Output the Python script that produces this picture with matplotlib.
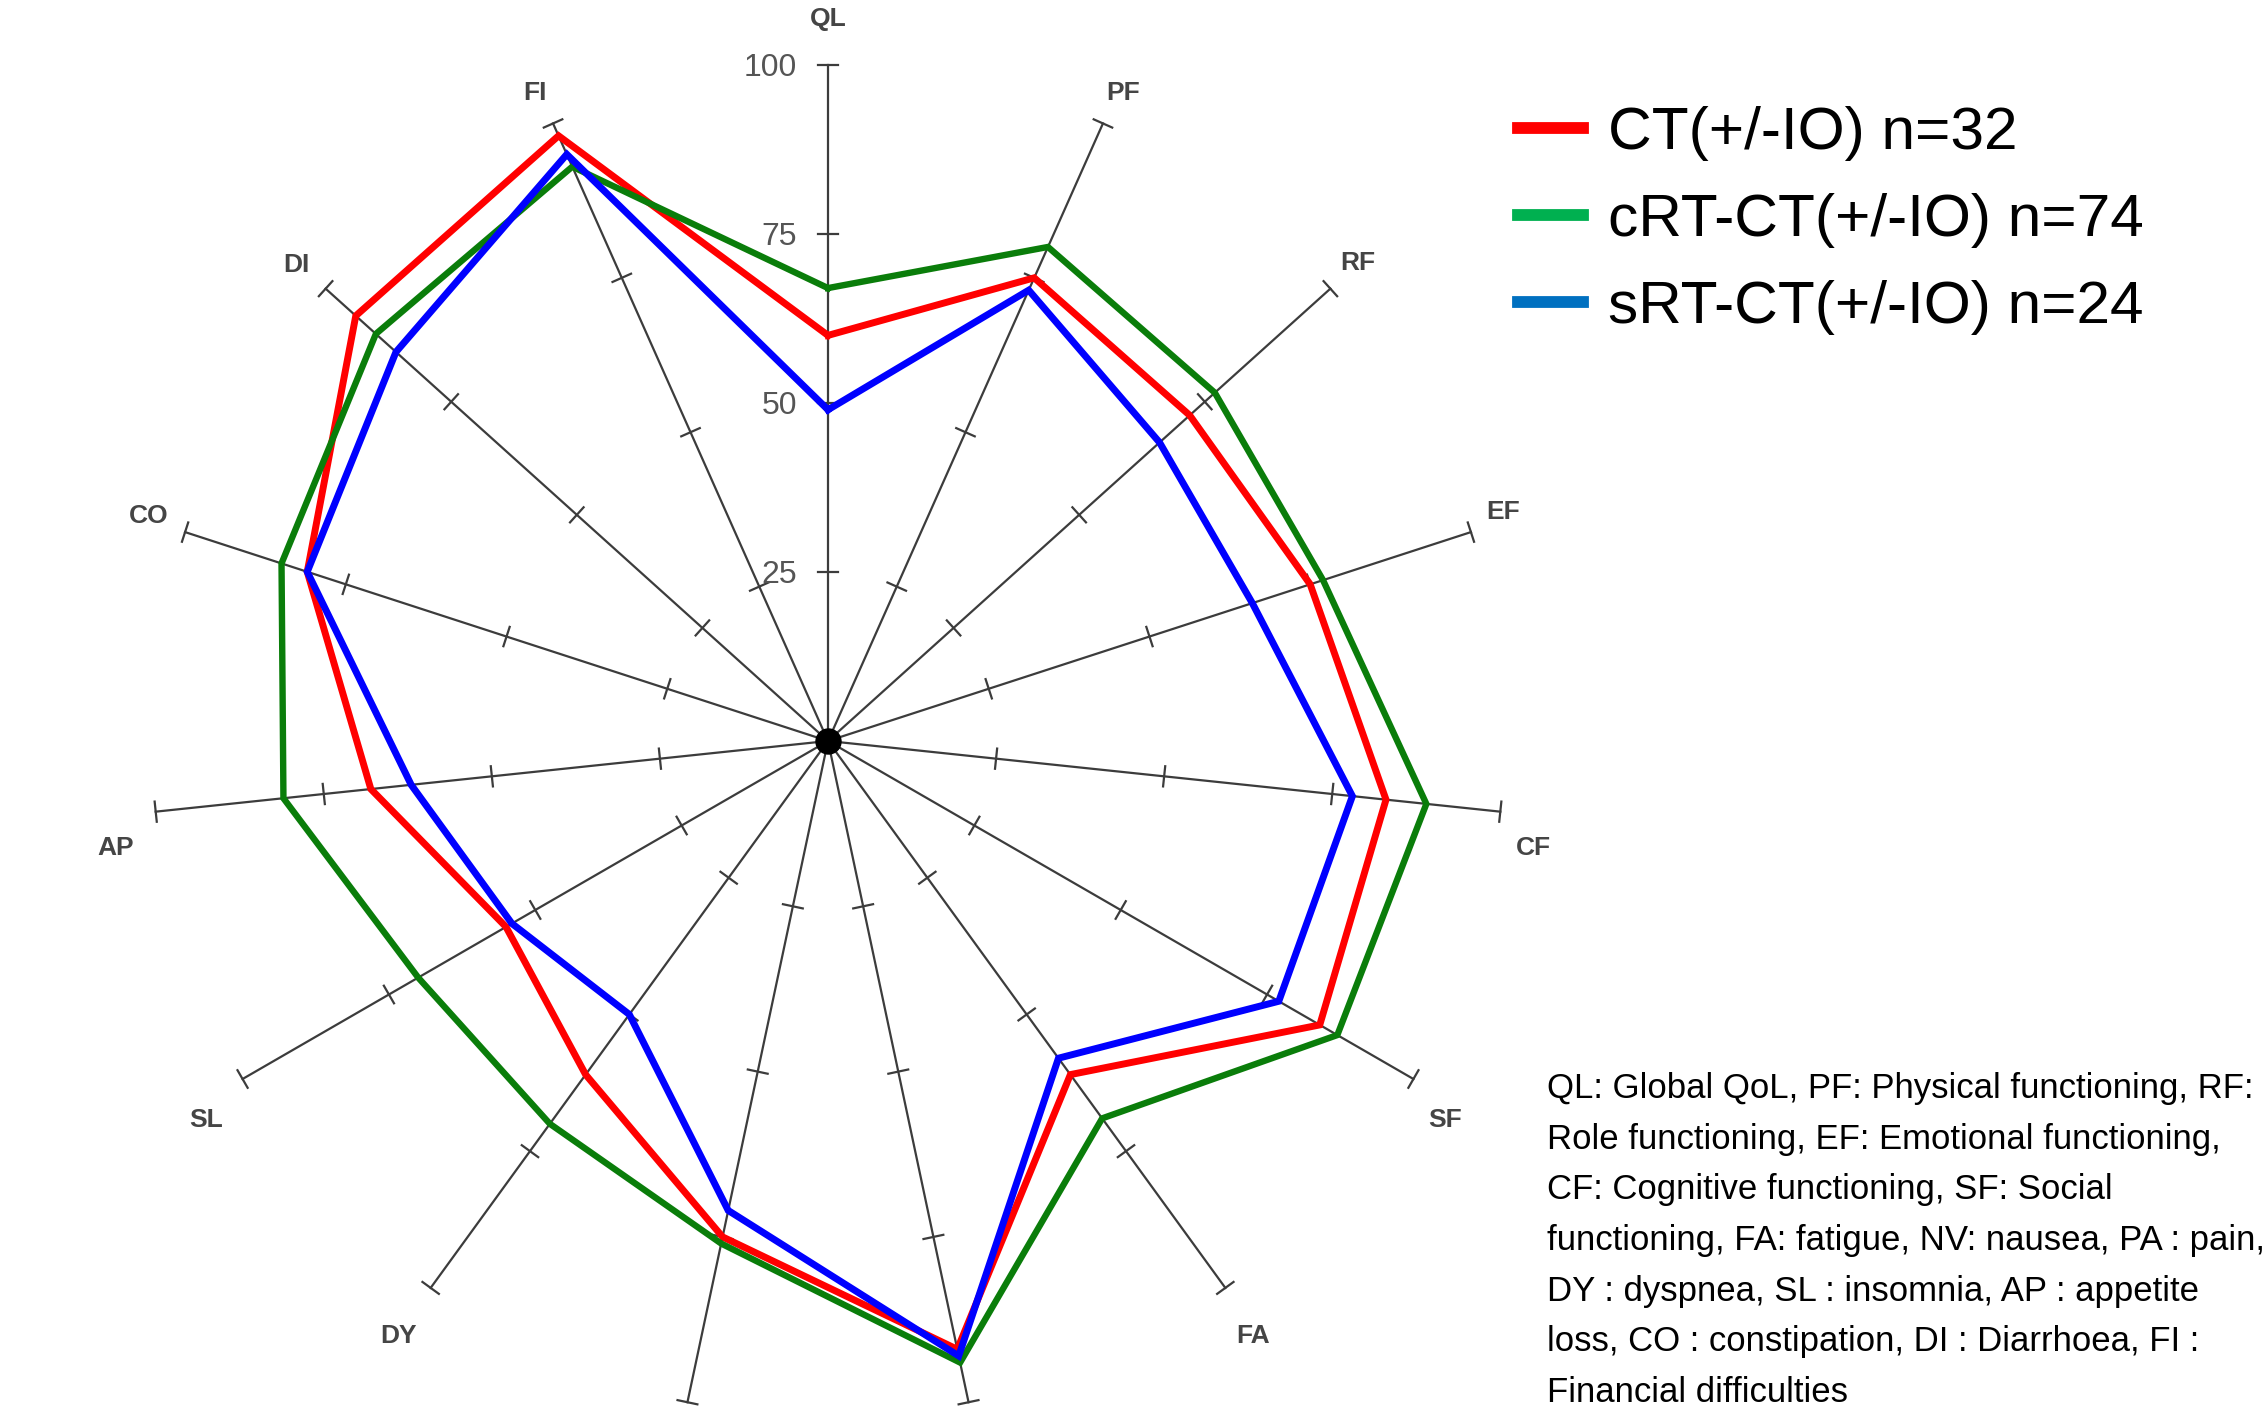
import numpy as np
import matplotlib
matplotlib.use('Agg')
import matplotlib.pyplot as plt
from matplotlib.lines import Line2D

# ---------------- data ----------------
categories = ['QL', 'PF', 'RF', 'EF', 'CF', 'SF', 'FA', 'NV', 'PA', 'DY', 'SL', 'AP', 'CO', 'DI', 'FI']
ct_io = [60, 75, 72, 75, 83, 84, 61, 92, 75, 61, 55, 68, 81, 94, 98]
crt_ct_io = [67, 80, 77, 77, 89, 87, 69, 94, 76, 70, 70, 81, 85, 90, 93]
srt_ct_io = [49, 73, 66, 66, 78, 77, 58, 93, 71, 50, 54, 62, 81, 86, 95]
series_labels = ['CT(+/-IO) n=32', 'cRT-CT(+/-IO) n=74', 'sRT-CT(+/-IO) n=24']
radial_ticks = [25, 50, 75, 100]
radial_ticklabels = ['25', '50', '75', '100']
footnote = ("QL: Global QoL, PF: Physical functioning, RF:\n"
            "Role functioning, EF: Emotional functioning,\n"
            "CF: Cognitive functioning, SF: Social\n"
            "functioning, FA: fatigue, NV: nausea, PA : pain,\n"
            "DY : dyspnea, SL : insomnia, AP : appetite\n"
            "loss, CO : constipation, DI : Diarrhoea, FI :\n"
            "Financial difficulties")

# ---------------- style ----------------
line_colors = ['#ff0000', '#0a7d0a', '#0000ff']
legend_colors = ['#ff0000', '#00b050', '#0070c0']
line_widths = [5.0, 4.6, 5.0]
txt_family = ['Liberation Sans', 'DejaVu Sans']
leg_fs = 43.5
note_fs = 25
note_ls = 1.68
label_r = 105
# vertical nudge of each category label (in radial units), per category
label_dy = [1.8, 0.0, 0.4, 1.4, -4.8, -3.5, -3.1, -3.1, -3.1, -3.1, -3.5, -4.8, 0.9, 0.2, 0.0]
label_dx = [0.0, 1.0, 0.4, 0.0, 0.0, 0.3, 1.2, 0.0, 0.0, -1.8, -1.0, -0.9, -0.7, -0.6, -0.6]

W, H, DPI = 2267, 1412, 100
fig = plt.figure(figsize=(W / DPI, H / DPI), dpi=DPI)
ax = fig.add_axes([0, 0, 1, 1])
s = 6.76            # pixels per unit
cx, cy = 828, 741   # centre in pixels (from top-left)
ax.set_xlim(-cx / s, (W - cx) / s)
ax.set_ylim(-(H - cy) / s, cy / s)
ax.set_aspect('equal')
ax.axis('off')

n = len(categories)
theta = np.deg2rad(90 - np.arange(n) * 360.0 / n)
ux, uy = np.cos(theta), np.sin(theta)

axis_col = '#3c3c3c'
rmax = radial_ticks[-1]
h = 1.5
ymin, ymax = ax.get_ylim()
for i in range(n):
    ax.plot([0, rmax * ux[i]], [0, rmax * uy[i]], color=axis_col, lw=1.6, zorder=1)
    px, py = -uy[i], ux[i]
    for r in radial_ticks:
        x0, y0 = r * ux[i], r * uy[i]
        ax.plot([x0 - h * px, x0 + h * px], [y0 - h * py, y0 + h * py],
                color=axis_col, lw=1.6, zorder=1)
    lx = label_r * ux[i] + label_dx[i]
    ly = label_r * uy[i] + label_dy[i]
    if ymin + 2 < ly < ymax - 2:   # labels below the canvas edge are not shown
        ax.text(lx, ly, categories[i], ha='center', va='center',
                fontsize=19, color='#454545', fontweight='bold', family=['Liberation Sans'])

for r, lab in zip(radial_ticks, radial_ticklabels):
    ax.text(-4.6, r - 0.4, lab, ha='right', va='center', fontsize=23, color='#555555',
            family=['Liberation Sans'])

order = [1, 0, 2]
all_series = [ct_io, crt_ct_io, srt_ct_io]
for k in order:
    v = np.array(all_series[k], dtype=float)
    x = np.append(v * ux, v[0] * ux[0])
    y = np.append(v * uy, v[0] * uy[0])
    ax.plot(x, y, color=line_colors[k], lw=line_widths[k], solid_joinstyle='miter',
            zorder=3 + k)

ax.plot([0], [0], 'o', color='black', ms=18, zorder=10)

em = leg_fs * DPI / 72
handles = [Line2D([0], [0], color=c, lw=8.5) for c in legend_colors]
fig.legend(handles, series_labels, loc='upper left',
           bbox_to_anchor=(1518 / W, 1 - 106 / H), bbox_transform=fig.transFigure,
           frameon=False, prop={'family': txt_family, 'size': leg_fs},
           handlelength=65 / em, handletextpad=25 / em,
           labelspacing=0.53, borderpad=0, borderaxespad=0)

fig.text(1547 / W, 1 - 1072 / H, footnote, ha='left', va='top', fontsize=note_fs,
         family=txt_family, linespacing=note_ls, color='black')

fig.savefig('out.png', dpi=DPI)
